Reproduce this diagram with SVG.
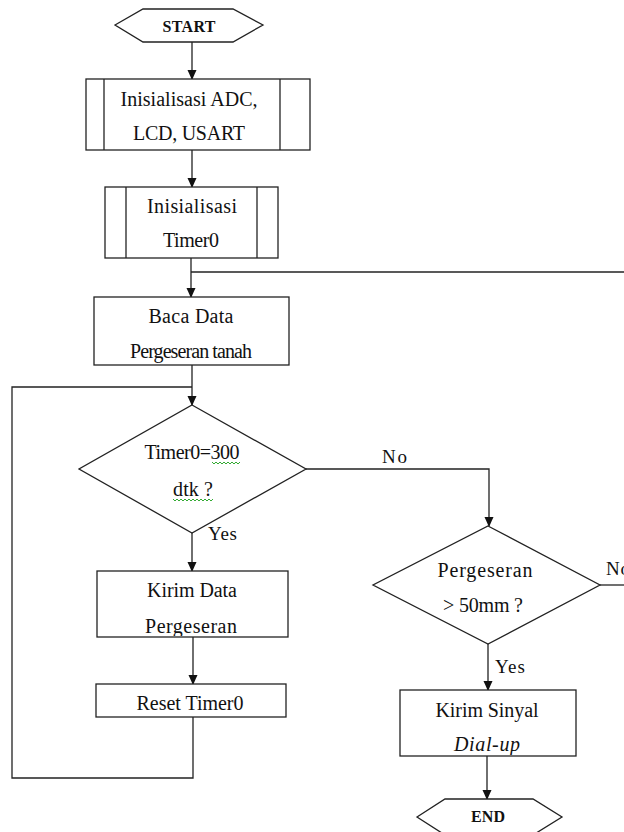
<svg xmlns="http://www.w3.org/2000/svg" width="624" height="832" viewBox="0 0 624 832">
<style>
.s{fill:#fff;stroke:#222;stroke-width:1.3}
.l{fill:none;stroke:#222;stroke-width:1.3}
.t{font-family:"Liberation Serif","Times New Roman",serif;font-size:20px;fill:#111;text-anchor:middle}
.b{font-family:"Liberation Serif","Times New Roman",serif;font-size:16px;font-weight:bold;fill:#111;text-anchor:middle}
.lb{font-family:"Liberation Serif","Times New Roman",serif;font-size:19px;fill:#111}
.sq{fill:none;stroke:#3a3;stroke-width:1}
</style>
<defs>
<marker id="ah" markerUnits="userSpaceOnUse" markerWidth="10" markerHeight="12" refX="9" refY="4.5" orient="auto">
<path d="M0,0 L10,4.5 L0,9 Z" fill="#111"/>
</marker>
<clipPath id="c3"><rect x="94" y="297" width="195" height="68"/></clipPath>
<clipPath id="c6"><rect x="97" y="571" width="191" height="65"/></clipPath>
<clipPath id="c9"><rect x="400" y="690" width="176" height="65"/></clipPath>
</defs>
<g id="connectors">
<line class="l" x1="192" y1="42" x2="192" y2="79" marker-end="url(#ah)"/>
<line class="l" x1="192" y1="150" x2="192" y2="187" marker-end="url(#ah)"/>
<line class="l" x1="191" y1="258" x2="191" y2="297" marker-end="url(#ah)"/>
<line class="l" x1="191" y1="272" x2="624" y2="272"/>
<line class="l" x1="192" y1="365" x2="192" y2="405" marker-end="url(#ah)"/>
<polyline class="l" points="193,717 193,778 12,778 12,387 192,387"/>
<line class="l" x1="192" y1="533" x2="192" y2="571" marker-end="url(#ah)"/>
<line class="l" x1="193" y1="637" x2="193" y2="684" marker-end="url(#ah)"/>
<polyline class="l" points="306,469 489,469 489,526" marker-end="url(#ah)"/>
<line class="l" x1="600" y1="585" x2="624" y2="585"/>
<line class="l" x1="488" y1="644" x2="488" y2="690" marker-end="url(#ah)"/>
<line class="l" x1="487" y1="756" x2="487" y2="799" marker-end="url(#ah)"/>
<text class="lb" x="208" y="540" textLength="29">Yes</text>
<text class="lb" x="382" y="463" textLength="25">No</text>
<text class="lb" x="606" y="575" textLength="24">No</text>
<text class="lb" x="495" y="673" textLength="30">Yes</text>
</g>
<g id="start">
<polygon class="s" points="115,25 143,9 233,9 263,25 233,42 143,42"/>
<text class="b" x="189" y="32" textLength="53">START</text>
</g>
<g id="init1">
<rect class="s" x="86" y="79" width="224" height="71"/>
<line class="l" x1="104" y1="79" x2="104" y2="150"/>
<line class="l" x1="280" y1="79" x2="280" y2="150"/>
<text class="t" x="189" y="106" textLength="137">Inisialisasi ADC,</text>
<text class="t" x="189" y="140" textLength="112">LCD, USART</text>
</g>
<g id="init2">
<rect class="s" x="105" y="187" width="173" height="71"/>
<line class="l" x1="126" y1="187" x2="126" y2="258"/>
<line class="l" x1="257" y1="187" x2="257" y2="258"/>
<text class="t" x="192" y="213" textLength="90">Inisialisasi</text>
<text class="t" x="191" y="247" textLength="56">Timer0</text>
</g>
<g id="baca">
<rect class="s" x="94" y="297" width="195" height="68"/>
<text class="t" x="191" y="323" textLength="85">Baca Data</text>
<text class="t" x="191" y="358" textLength="122" clip-path="url(#c3)">Pergeseran tanah</text>
</g>
<g id="dec1">
<polygon class="s" points="192,405 306,469 192,533 79,469"/>
<text class="t" x="192" y="459" textLength="95">Timer0=300</text>
<text class="t" x="193" y="496" textLength="40">dtk ?</text>
<path class="sq" d="M212,462 l2,2 l2,-2 l2,2 l2,-2 l2,2 l2,-2 l2,2 l2,-2 l2,2 l2,-2 l2,2 l2,-2 l2,2 l2,-2"/>
<path class="sq" d="M173,499 l2,2 l2,-2 l2,2 l2,-2 l2,2 l2,-2 l2,2 l2,-2 l2,2 l2,-2 l2,2 l2,-2 l2,2 l2,-2 l2,2 l2,-2 l2,2 l2,-2 l2,2 l2,-2"/>
</g>
<g id="kirimdata">
<rect class="s" x="97" y="571" width="191" height="66"/>
<text class="t" x="192" y="597" textLength="90">Kirim Data</text>
<text class="t" x="191" y="633" textLength="92" clip-path="url(#c6)">Pergeseran</text>
</g>
<g id="reset">
<rect class="s" x="96" y="684" width="190" height="33"/>
<text class="t" x="190" y="710" textLength="107">Reset Timer0</text>
</g>
<g id="dec2">
<polygon class="s" points="488,526 600,585 488,644 373,585"/>
<text class="t" x="485" y="577" textLength="95">Pergeseran</text>
<text class="t" x="483" y="612" textLength="80">&gt; 50mm ?</text>
</g>
<g id="sinyal">
<rect class="s" x="400" y="690" width="176" height="66"/>
<text class="t" x="487" y="717" textLength="103">Kirim Sinyal</text>
<text class="t" x="487" y="751" textLength="66" font-style="italic" clip-path="url(#c9)">Dial-up</text>
</g>
<g id="end">
<polygon class="s" points="417,817 445,799 533,799 562,817 533,835 445,835"/>
<text class="b" x="488" y="822" textLength="34">END</text>
</g>
</svg>
